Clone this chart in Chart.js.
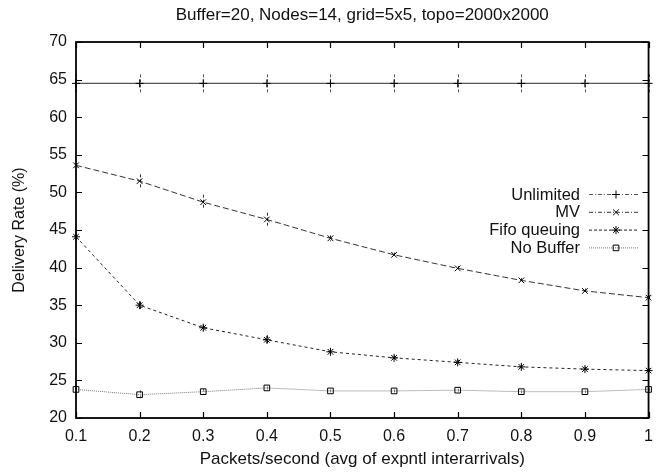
<!DOCTYPE html>
<html>
<head>
<meta charset="utf-8">
<script src="https://cdn.jsdelivr.net/npm/chart.js@4.4.0/dist/chart.umd.min.js"></script>
<style>
  html, body { margin: 0; padding: 0; background: #fff; }
  #wrap { width: 662px; height: 474px; }
</style>
</head>
<body>
<div id="wrap"><canvas id="chart"></canvas></div>
<script>
// x categories (packets/second)
const rates = ["0.1", "0.2", "0.3", "0.4", "0.5", "0.6", "0.7", "0.8", "0.9", "1"];

// delivery rate (%) per series
const unlimited = [64.5, 64.5, 64.5, 64.5, 64.5, 64.5, 64.5, 64.5, 64.5, 64.5];
const mv = [53.6, 51.5, 48.7, 46.4, 43.9, 41.7, 39.9, 38.3, 36.9, 36.0];
const fifo = [44.1, 35.0, 32.0, 30.4, 28.8, 28.0, 27.4, 26.8, 26.5, 26.3];
const noBuffer = [23.8, 23.1, 23.5, 24.0, 23.6, 23.6, 23.7, 23.5, 23.5, 23.8];

// error bar half-widths
const unlimitedErr = [1.2, 1.2, 1.2, 1.2, 1.2, 1.2, 1.2, 1.2, 1.2, 1.2];
const mvErr = [0.3, 0.9, 1.0, 0.9, 0.4, 0.3, 0.3, 0.3, 0.3, 0.3];
const fifoErr = [0.3, 0.5, 0.4, 0.6, 0.3, 0.3, 0.3, 0.3, 0.3, 0.3];
const noBufferErr = [0.2, 0.6, 0.4, 0.2, 0.2, 0.2, 0.2, 0.2, 0.2, 0.2];

const yTicks = [20, 25, 30, 35, 40, 45, 50, 55, 60, 65, 70];

const titleText = "Buffer=20, Nodes=14, grid=5x5, topo=2000x2000";

const FONT = "'Liberation Sans', Arial, sans-serif";

// gnuplot-like frame with inward ticks on all four sides, title over the plot
const framePlugin = {
  id: "frame",
  afterDraw(chart) {
    const ctx = chart.ctx;
    const a = chart.chartArea;
    const xs = chart.scales.x, ys = chart.scales.y;
    ctx.save();
    ctx.strokeStyle = "#000";
    ctx.lineWidth = 1.2;
    rates.forEach((r, i) => {
      const x = Math.round(xs.getPixelForValue(i)) + 0.5;
      ctx.beginPath();
      ctx.moveTo(x, a.bottom); ctx.lineTo(x, a.bottom - 6);
      ctx.moveTo(x, a.top); ctx.lineTo(x, a.top + 6);
      ctx.stroke();
    });
    yTicks.forEach(v => {
      const y = Math.round(ys.getPixelForValue(v)) + 0.5;
      ctx.beginPath();
      ctx.moveTo(a.left, y); ctx.lineTo(a.left + 6, y);
      ctx.moveTo(a.right, y); ctx.lineTo(a.right - 6, y);
      ctx.stroke();
    });
    ctx.lineWidth = 1.8;
    ctx.strokeRect(a.left, a.top, a.right - a.left, a.bottom - a.top);

    ctx.fillStyle = "#111";
    ctx.font = "17px " + FONT;
    ctx.textAlign = "center";
    ctx.textBaseline = "middle";
    ctx.fillText(titleText, (a.left + a.right) / 2, 15);
    ctx.restore();
  }
};

// vertical error bars
const errorPlugin = {
  id: "errbars",
  beforeDatasetsDraw(chart) {
    const ctx = chart.ctx;
    const xs = chart.scales.x, ys = chart.scales.y;
    ctx.save();
    ctx.lineWidth = 1;
    chart.data.datasets.forEach(ds => {
      if (!ds.err) return;
      ctx.strokeStyle = ds.borderColor;
      ctx.setLineDash([3, 2]);
      ds.data.forEach((v, i) => {
        const x = Math.round(xs.getPixelForValue(i)) + 0.5;
        ctx.beginPath();
        ctx.moveTo(x, ys.getPixelForValue(v + ds.err[i]));
        ctx.lineTo(x, ys.getPixelForValue(v - ds.err[i]));
        ctx.stroke();
      });
    });
    ctx.restore();
  }
};

// legend in gnuplot style: right-aligned text, sample line on the right
const keyDash = [[4, 2, 1, 2], [4, 2, 1, 2], [3, 2], [1, 1]];
const keyPlugin = {
  id: "key",
  afterDraw(chart) {
    const ctx = chart.ctx;
    const textRight = 580, lineL = 589, lineR = 639;
    let y = 194;
    ctx.save();
    ctx.font = "16.5px " + FONT;
    ctx.textAlign = "right";
    ctx.textBaseline = "middle";
    chart.data.datasets.forEach((ds, i) => {
      ctx.fillStyle = "#111";
      ctx.fillText(ds.label, textRight, y + 1);
      ctx.strokeStyle = ds.borderColor;
      ctx.lineWidth = 1;
      ctx.setLineDash(keyDash[i]);
      ctx.beginPath();
      ctx.moveTo(lineL, y + 0.5);
      ctx.lineTo(lineR, y + 0.5);
      ctx.stroke();
      ctx.setLineDash([]);
      ctx.strokeStyle = "#000";
      ctx.fillStyle = "rgba(255,255,255,0)";
      Chart.helpers.drawPoint(ctx, {
        pointStyle: ds.pointStyle,
        radius: ds.pointRadius,
        borderWidth: 1,
        rotation: 0
      }, 616, y + 0.5);
      y += 17.8;
    });
    ctx.restore();
  }
};

function series(label, data, err, style, dash, color, width) {
  return {
    label: label,
    data: data,
    err: err,
    borderColor: color,
    backgroundColor: "#fff",
    borderWidth: width,
    borderDash: dash,
    pointStyle: style,
    pointRadius: 4,
    pointBorderWidth: 1,
    pointBorderColor: "#000",
    pointBackgroundColor: "rgba(255,255,255,0)",
    tension: 0,
    fill: false
  };
}

new Chart(document.getElementById("chart"), {
  type: "line",
  data: {
    labels: rates,
    datasets: [
      series("Unlimited", unlimited, unlimitedErr, "cross", [], "#555", 1.3),
      series("MV", mv, mvErr, "crossRot", [6, 3], "#333", 1),
      series("Fifo queuing", fifo, fifoErr, "star", [3, 3], "#222", 1),
      series("No Buffer", noBuffer, noBufferErr, "rect", [1, 1], "#777", 1)
    ]
  },
  options: {
    responsive: true,
    maintainAspectRatio: false,
    animation: false,
    layout: { padding: { left: 0, right: 5, top: 42, bottom: 0 } },
    plugins: {
      legend: { display: false },
      tooltip: { enabled: false },
      title: { display: false }
    },
    scales: {
      x: {
        type: "category",
        offset: false,
        grid: { display: false, drawTicks: false },
        border: { display: false },
        ticks: {
          color: "#111",
          font: { family: FONT, size: 16 },
          padding: 9,
          maxRotation: 0,
          autoSkip: false
        },
        title: {
          display: true,
          text: "Packets/second (avg of expntl interarrivals)",
          color: "#111",
          font: { family: FONT, size: 17 },
          padding: { top: 0, bottom: 4 }
        },
        afterFit(scale) { scale.height = 56; }
      },
      y: {
        min: 20,
        max: 70,
        grid: { display: false, drawTicks: false },
        border: { display: false },
        ticks: {
          stepSize: 5,
          color: "#111",
          font: { family: FONT, size: 16 },
          padding: 9
        },
        title: {
          display: true,
          text: "Delivery Rate (%)",
          color: "#111",
          font: { family: FONT, size: 16 },
          padding: { top: 10, bottom: 0 }
        },
        afterFit(scale) { scale.width = 76; }
      }
    }
  },
  plugins: [errorPlugin, framePlugin, keyPlugin]
});
</script>
</body>
</html>
